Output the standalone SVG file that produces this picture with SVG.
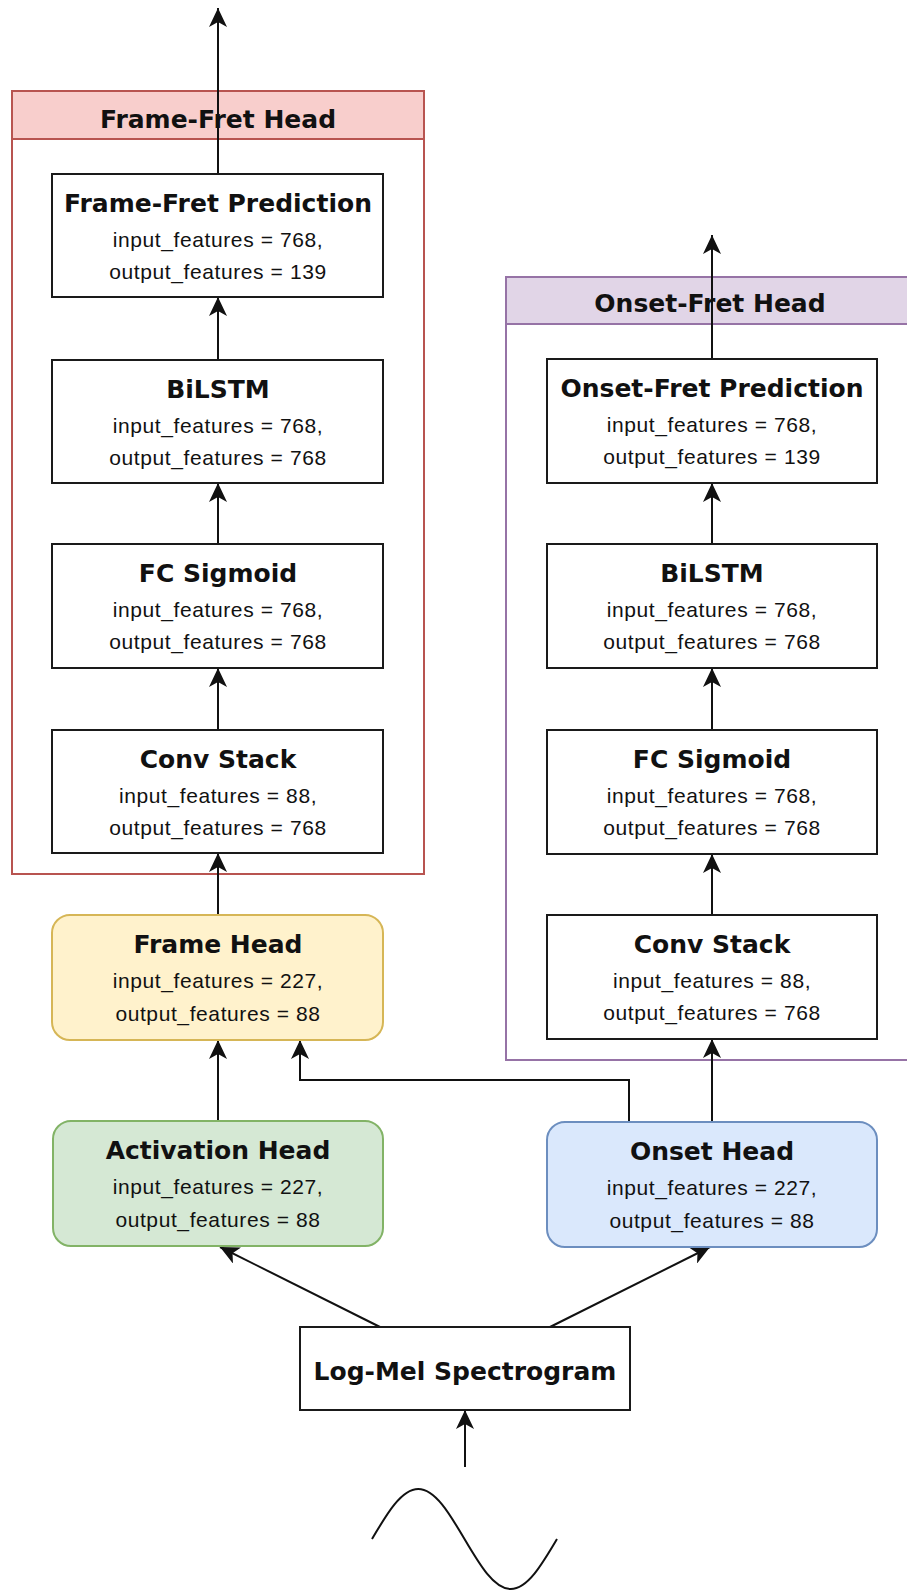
<svg xmlns="http://www.w3.org/2000/svg" width="907" height="1590" viewBox="0 0 907 1590">
<defs>
<marker id="arr" markerUnits="userSpaceOnUse" viewBox="0 0 19 18" markerWidth="19" markerHeight="18" refX="19" refY="9" orient="auto">
<path d="M0,0 L19,9 L0,18 L5,9 Z" fill="#111"/>
</marker>
<style>
.box{fill:#fff;stroke:#1a1a1a;stroke-width:2}
.t{font-family:"DejaVu Sans",Verdana,sans-serif;font-weight:bold;font-size:25px;fill:#111;text-anchor:middle}
.s{font-family:"Liberation Sans",Arial,sans-serif;font-size:21px;letter-spacing:0.6px;fill:#111;text-anchor:middle}
.c{fill:none;stroke:#111;stroke-width:2}
.a{fill:none;stroke:#111;stroke-width:2;marker-end:url(#arr)}
</style>
</defs>
<rect width="907" height="1590" fill="#fff"/>

<g id="frame-fret-head">
<rect x="12" y="91" width="412" height="783" fill="#fff" stroke="#b85450" stroke-width="2"/>
<rect x="12" y="91" width="412" height="48" fill="#f8cecc" stroke="#b85450" stroke-width="2"/>
<text class="t" x="218" y="128">Frame-Fret Head</text>
</g>
<g id="onset-fret-head">
<rect x="506" y="277" width="414" height="783" fill="#fff" stroke="#9673a6" stroke-width="2"/>
<rect x="506" y="277" width="414" height="47" fill="#e1d5e7" stroke="#9673a6" stroke-width="2"/>
<text class="t" x="710" y="312">Onset-Fret Head</text>
</g>

<g id="connectors">
<path class="a" d="M218,174 V8"/>
<path class="a" d="M218,360 V297"/>
<path class="a" d="M218,544 V483"/>
<path class="a" d="M218,730 V668"/>
<path class="a" d="M218,915 V853"/>
<path class="a" d="M218,1121 V1040"/>
<path class="a" d="M629,1122 V1080 H300 V1040"/>
<path class="a" d="M712,359 V235"/>
<path class="a" d="M712,544 V483"/>
<path class="a" d="M712,730 V668"/>
<path class="a" d="M712,915 V854"/>
<path class="a" d="M712,1122 V1039"/>
<path class="a" d="M380,1327 L220,1247"/>
<path class="a" d="M550,1327 L710,1247"/>
<path class="a" d="M465,1467 V1410"/>
</g>

<g id="ff-prediction">
<rect class="box" x="52" y="174" width="331" height="123"/>
<text class="t" x="218" y="212">Frame-Fret Prediction</text>
<text class="s" x="218" y="247">input_features = 768,</text>
<text class="s" x="218" y="279">output_features = 139</text>
</g>
<g id="ff-bilstm">
<rect class="box" x="52" y="360" width="331" height="123"/>
<text class="t" x="218" y="398">BiLSTM</text>
<text class="s" x="218" y="433">input_features = 768,</text>
<text class="s" x="218" y="465">output_features = 768</text>
</g>
<g id="ff-fc">
<rect class="box" x="52" y="544" width="331" height="124"/>
<text class="t" x="218" y="582">FC Sigmoid</text>
<text class="s" x="218" y="617">input_features = 768,</text>
<text class="s" x="218" y="649">output_features = 768</text>
</g>
<g id="ff-conv">
<rect class="box" x="52" y="730" width="331" height="123"/>
<text class="t" x="218" y="768">Conv Stack</text>
<text class="s" x="218" y="803">input_features = 88,</text>
<text class="s" x="218" y="835">output_features = 768</text>
</g>

<g id="of-prediction">
<rect class="box" x="547" y="359" width="330" height="124"/>
<text class="t" x="712" y="397">Onset-Fret Prediction</text>
<text class="s" x="712" y="432">input_features = 768,</text>
<text class="s" x="712" y="464">output_features = 139</text>
</g>
<g id="of-bilstm">
<rect class="box" x="547" y="544" width="330" height="124"/>
<text class="t" x="712" y="582">BiLSTM</text>
<text class="s" x="712" y="617">input_features = 768,</text>
<text class="s" x="712" y="649">output_features = 768</text>
</g>
<g id="of-fc">
<rect class="box" x="547" y="730" width="330" height="124"/>
<text class="t" x="712" y="768">FC Sigmoid</text>
<text class="s" x="712" y="803">input_features = 768,</text>
<text class="s" x="712" y="835">output_features = 768</text>
</g>
<g id="of-conv">
<rect class="box" x="547" y="915" width="330" height="124"/>
<text class="t" x="712" y="953">Conv Stack</text>
<text class="s" x="712" y="988">input_features = 88,</text>
<text class="s" x="712" y="1020">output_features = 768</text>
</g>

<g id="frame-head">
<rect x="52" y="915" width="331" height="125" rx="18" fill="#fff2cc" stroke="#d6b656" stroke-width="2"/>
<text class="t" x="218" y="953">Frame Head</text>
<text class="s" x="218" y="988">input_features = 227,</text>
<text class="s" x="218" y="1021">output_features = 88</text>
</g>
<g id="activation-head">
<rect x="53" y="1121" width="330" height="125" rx="18" fill="#d5e8d4" stroke="#82b366" stroke-width="2"/>
<text class="t" x="218" y="1159">Activation Head</text>
<text class="s" x="218" y="1194">input_features = 227,</text>
<text class="s" x="218" y="1227">output_features = 88</text>
</g>
<g id="onset-head">
<rect x="547" y="1122" width="330" height="125" rx="18" fill="#dae8fc" stroke="#6c8ebf" stroke-width="2"/>
<text class="t" x="712" y="1160">Onset Head</text>
<text class="s" x="712" y="1195">input_features = 227,</text>
<text class="s" x="712" y="1228">output_features = 88</text>
</g>
<g id="log-mel">
<rect class="box" x="300" y="1327" width="330" height="83"/>
<text class="t" x="465" y="1380">Log-Mel Spectrogram</text>
</g>
<g id="waveform">
<path class="c" d="M372,1539 C387.1,1513.4 401.5,1489 418.25,1489 C435,1489 449.4,1513.4 464.5,1539 C479.6,1564.6 494,1589 510.75,1589 C527.5,1589 541.9,1564.6 557,1539"/>
</g>
</svg>
